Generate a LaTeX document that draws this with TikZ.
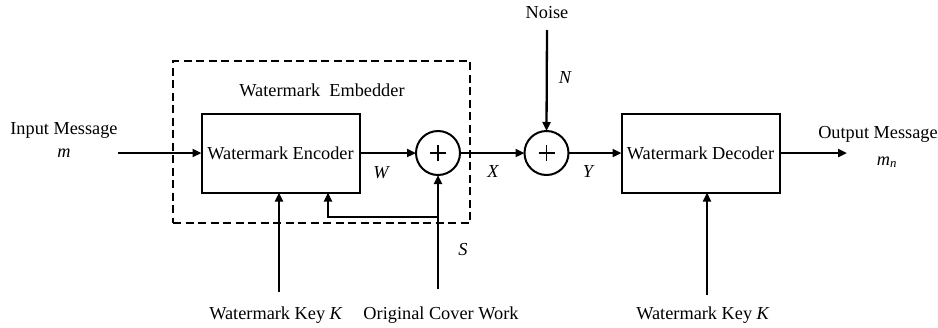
\documentclass[tikz,border=0pt]{standalone}
\usepackage{fontspec}
\setmainfont{Liberation Serif}
\usetikzlibrary{arrows.meta}
\begin{document}
\begin{tikzpicture}[x=1pt,y=-1pt,
  every node/.style={font=\fontsize{18.3}{21}\selectfont, inner sep=0pt, outer sep=0pt},
  blk/.style={draw, line width=2pt, minimum width=158pt, minimum height=79pt},
  sumnode/.style={draw, circle, line width=2pt, minimum size=44pt,
    path picture={\draw[line width=1.8pt] ([xshift=-8pt]path picture bounding box.center) -- ([xshift=8pt]path picture bounding box.center);
                  \draw[line width=1.8pt] ([yshift=-8pt]path picture bounding box.center) -- ([yshift=8pt]path picture bounding box.center);}},
  arr/.style={line width=2.3pt, -{Triangle[length=9pt,width=8pt]}},
  dashbox/.style={draw, line width=2.3pt, dash pattern=on 8pt off 4.5pt, minimum width=297pt, minimum height=162pt}]
\useasboundingbox (0,0) rectangle (938,327);

% embedder dashed box
\node[dashbox] (emb) at (321.5,142) {};
\node (embl) at (322,90) {Watermark\ \ Embedder};

% blocks
\node[blk] (enc) at (280.5,153) {Watermark Encoder};
\node[blk] (dec) at (700.5,153) {Watermark Decoder};
\node[sumnode] (s1) at (438,153) {};
\node[sumnode] (s2) at (546.5,153) {};

% texts
\node (inm) at (64,130) {Input Message};
\node (inmm) at (64,153) {\itshape m};
\node (noise) at (547,13) {Noise};
\node (nl) at (565,78) {\itshape N};
\node (wl) at (381,173) {\itshape W};
\node (xl) at (493,172) {\itshape X};
\node (yl) at (588,172) {\itshape Y};
\node (sl) at (463,250) {\itshape S};
\node (outm) at (878,134) {Output Message};
\node (outmm) at (887,162) {\itshape m\textsubscript{\itshape n}};
\node (k1t) at (276,315) {Watermark Key \textit{K}};
\node (cwt) at (441,315) {Original Cover Work};
\node (k2t) at (703,315) {Watermark Key \textit{K}};

% coordinates
\coordinate (in) at (118,153);
\coordinate (nz) at (547,30);
\coordinate (out) at (847,153);
\coordinate (k1) at (279,292);
\coordinate (cw) at (438,289);
\coordinate (br) at (438,217);
\coordinate (fb) at (328,217);
\coordinate (k2) at (707,295);

% connectors
\draw[arr] (in) -- (enc.west);
\draw[arr] (enc.east) -- (s1.west);
\draw[arr] (s1.east) -- (s2.west);
\draw[arr] (s2.east) -- (dec.west);
\draw[arr] (nz) -- (s2.north);
\draw[arr] (dec.east) -- (out);
\draw[arr] (k1) -- (enc.south -| k1);
\draw[arr] (cw) -- (s1.south);
\draw[arr, line width=2pt] (br) -- (fb) -- (enc.south -| fb);
\draw[arr] (k2) -- (dec.south -| k2);
\end{tikzpicture}
\end{document}
